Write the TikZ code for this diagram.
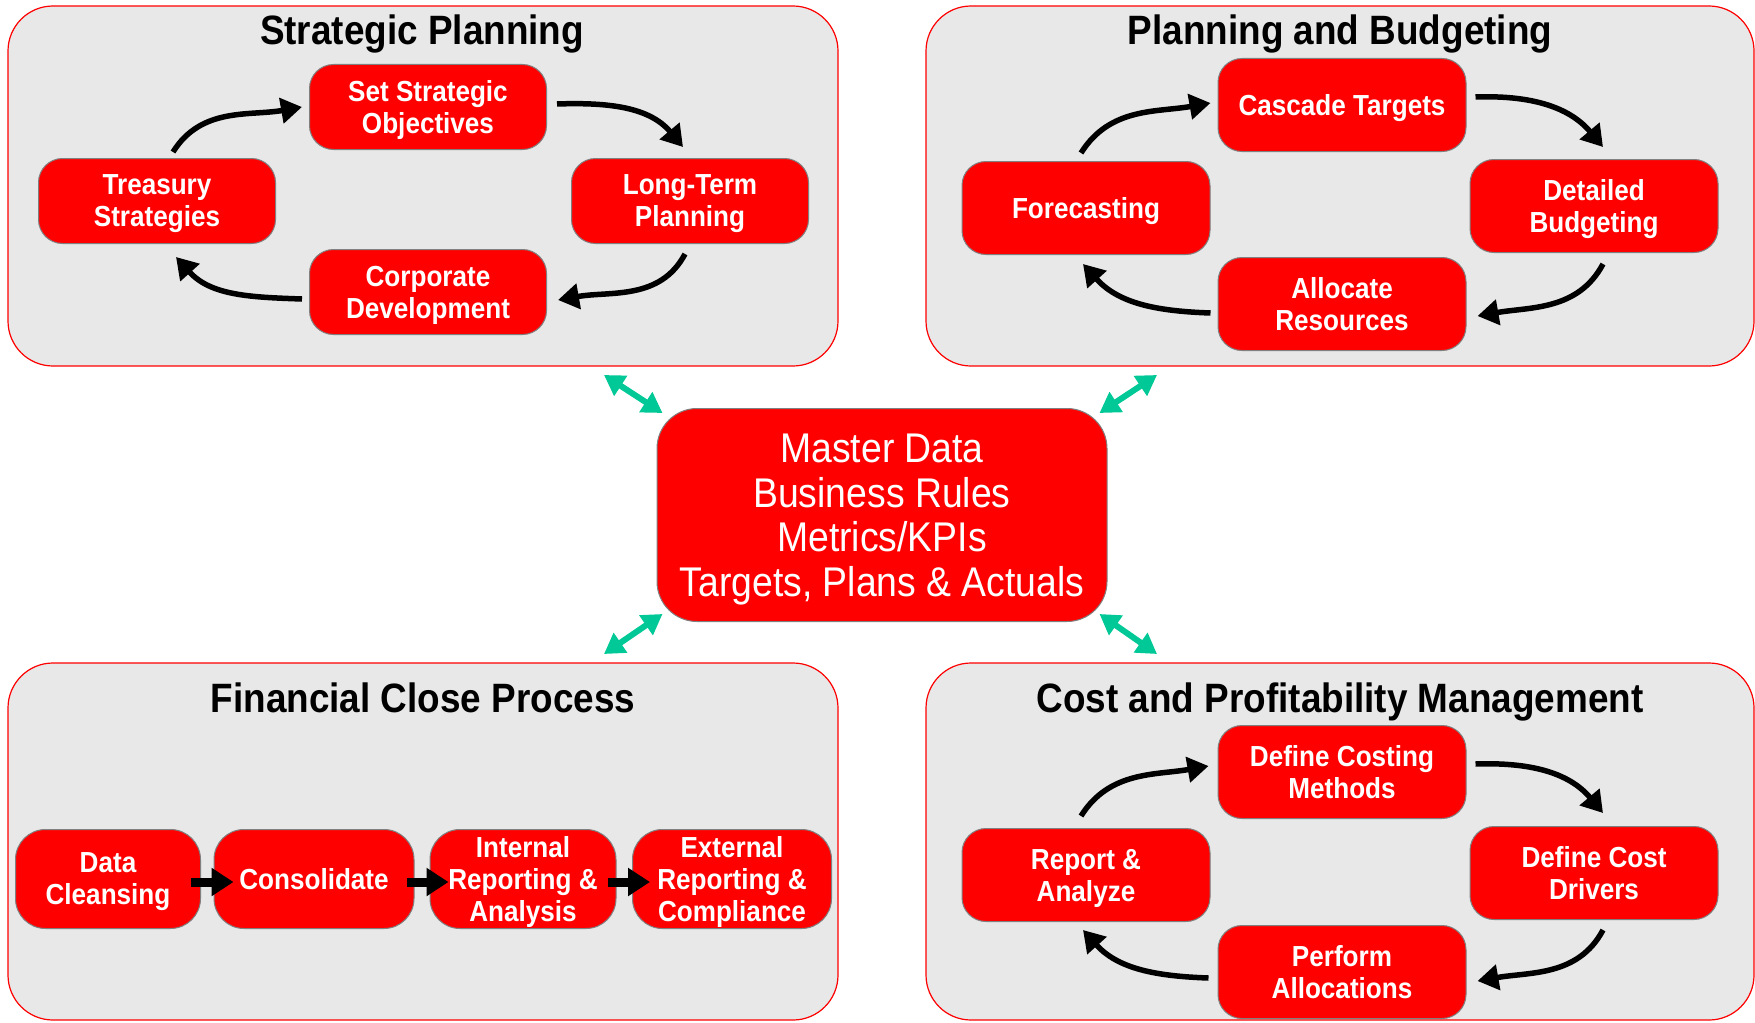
\documentclass[tikz,border=0pt]{standalone}
\usepackage{fontspec}
\setmainfont{Liberation Sans}[FakeStretch=0.9]
\usetikzlibrary{arrows.meta}
\definecolor{linkgreen}{RGB}{0,200,150}
\tikzset{
  panel/.style={draw=red, line width=1.2pt, fill=black!9, rounded corners=45pt},
  title/.style={anchor=base, font=\bfseries\fontsize{41}{45}\selectfont},
  box/.style={draw=black!50, line width=1pt, fill=red, rounded corners=24pt, text=white, align=center, inner sep=0pt,
    font=\bfseries\fontsize{29}{32}\selectfont, minimum width=248pt, minimum height=93pt, text depth=0pt},
  cycle/.style={line width=5.5pt, -{Triangle[length=21pt,width=25pt]}},
  flow/.style={line width=9pt, -{Triangle[length=22pt,width=27pt]}},
  link/.style={draw=linkgreen, line width=6pt, {Triangle[length=20pt,width=23pt]}-{Triangle[length=20pt,width=23pt]}},
}
\begin{document}
\begin{tikzpicture}[x=1pt,y=1pt]
\useasboundingbox (0,0) rectangle (1755,-1022);
\draw[panel] (8,-6) rectangle (838,-366);
\draw[panel] (926,-6) rectangle (1754,-366);
\draw[panel] (8,-663) rectangle (838,-1020);
\draw[panel] (926,-663) rectangle (1754,-1020);
\node[title] (sptitle) at (422,-45) {Strategic Planning};
\node[title] (pbtitle) at (1340,-45) {Planning and Budgeting};
\node[title] (fctitle) at (423,-712) {Financial Close Process};
\node[title] (cptitle) at (1340,-712) {Cost and Profitability Management};
\node[box, minimum width=237pt, minimum height=85pt] (obj) at (428,-107) {Set Strategic\\Objectives};
\node[box, minimum width=237pt, minimum height=85pt] (tres) at (157,-201) {Treasury\\Strategies};
\node[box, minimum width=237pt, minimum height=85pt] (ltp) at (690,-201) {Long-Term\\Planning};
\node[box, minimum width=237pt, minimum height=85pt] (corp) at (428,-292) {Corporate\\Development};
\draw[cycle] ([xshift=16pt,yshift=6pt]tres.north) to[out=58,in=190] ([xshift=-7pt]obj.west);
\draw[cycle] ([xshift=10pt,yshift=3pt]obj.east) to[out=2,in=130] ([xshift=-7pt,yshift=11pt]ltp.north);
\draw[cycle] ([xshift=-5pt,yshift=-10pt]ltp.south) to[out=-118,in=10] ([xshift=11pt,yshift=-8pt]corp.east);
\draw[cycle] ([xshift=-7pt,yshift=-7pt]corp.west) to[out=178,in=-48] ([xshift=19pt,yshift=-13pt]tres.south);
\node[box] (casc) at (1342,-105) {Cascade Targets};
\node[box] (fcst) at (1086,-208) {Forecasting};
\node[box] (budg) at (1594,-206) {Detailed\\Budgeting};
\node[box] (alloc) at (1342,-304) {Allocate\\Resources};
\draw[cycle] ([xshift=-5pt,yshift=8pt]fcst.north) to[out=58,in=190] ([xshift=-7pt,yshift=2pt]casc.west);
\draw[cycle] ([xshift=9pt,yshift=8pt]casc.east) to[out=2,in=130] ([xshift=9pt,yshift=12pt]budg.north);
\draw[cycle] ([xshift=9pt,yshift=-11pt]budg.south) to[out=-118,in=10] ([xshift=11pt,yshift=-12pt]alloc.east);
\draw[cycle] ([xshift=-7pt,yshift=-9pt]alloc.west) to[out=178,in=-48] ([xshift=-3pt,yshift=-9pt]fcst.south);
\node[box] (meth) at (1342,-772) {Define Costing\\Methods};
\node[box] (rep) at (1086,-875) {Report \&\\Analyze};
\node[box] (drv) at (1594,-873) {Define Cost\\Drivers};
\node[box] (perf) at (1342,-972) {Perform\\Allocations};
\draw[cycle] ([xshift=-5pt,yshift=12pt]rep.north) to[out=58,in=190] ([xshift=-9pt,yshift=6pt]meth.west);
\draw[cycle] ([xshift=9pt,yshift=8pt]meth.east) to[out=2,in=130] ([xshift=9pt,yshift=13pt]drv.north);
\draw[cycle] ([xshift=9pt,yshift=-10pt]drv.south) to[out=-118,in=10] ([xshift=11pt,yshift=-9pt]perf.east);
\draw[cycle] ([xshift=-9pt,yshift=-6pt]perf.west) to[out=178,in=-48] ([xshift=-3pt,yshift=-8pt]rep.south);
\node[box, rounded corners=30pt, minimum width=185pt, minimum height=99pt] (clean) at (108,-879) {Data\\Cleansing};
\node[box, rounded corners=30pt, minimum width=200pt, minimum height=99pt] (cons) at (314,-879) {Consolidate};
\node[box, rounded corners=30pt, minimum width=186pt, minimum height=99pt] (intr) at (523,-879) {Internal\\Reporting \&\\Analysis};
\node[box, rounded corners=30pt, minimum width=199pt, minimum height=99pt] (extr) at (732,-879) {External\\Reporting \&\\Compliance};
\draw[flow] ([xshift=-10pt,yshift=-3pt]clean.east) -- ([xshift=20pt,yshift=-3pt]cons.west);
\draw[flow] ([xshift=-8pt,yshift=-3pt]cons.east) -- ([xshift=19pt,yshift=-3pt]intr.west);
\draw[flow] ([xshift=-9pt,yshift=-3pt]intr.east) -- ([xshift=18pt,yshift=-3pt]extr.west);
\node[box, rounded corners=40pt, minimum width=450pt, minimum height=213pt, font=\fontsize{41.5}{44.5}\selectfont] (hub) at (882,-515) {Master Data\\Business Rules\\Metrics/KPIs\\Targets, Plans \& Actuals};
\coordinate (spend) at (604,-375);
\coordinate (pbend) at (1157,-375);
\coordinate (fcend) at (604,-654);
\coordinate (cpend) at (1157,-654);
\draw[link] (spend) -- ([xshift=6pt,yshift=-5pt]hub.north west);
\draw[link] (pbend) -- ([xshift=-8pt,yshift=-5pt]hub.north east);
\draw[link] (fcend) -- ([xshift=6pt,yshift=8pt]hub.south west);
\draw[link] (cpend) -- ([xshift=-8pt,yshift=8pt]hub.south east);
\end{tikzpicture}
\end{document}
